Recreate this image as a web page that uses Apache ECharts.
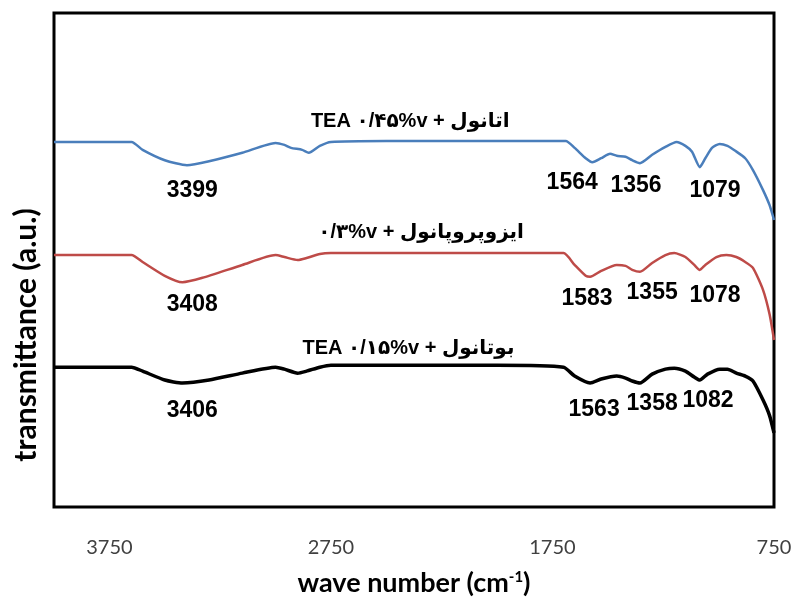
<!DOCTYPE html>
<html>
<head>
<meta charset="utf-8">
<script src="https://cdn.jsdelivr.net/npm/echarts@6/dist/echarts.min.js"></script>
<style>
  html, body { margin: 0; padding: 0; background: #fff; }
  #chart { width: 798px; height: 604px; }
</style>
</head>
<body>
<div id="chart"></div>
<script>
// wave number (cm-1), transmittance (a.u.)
const ethanol = [[4000,73.9],[3650,73.9],[3600,72.3],[3500,70.2],[3400,69.2],[3300,70.0],[3150,71.7],[3000,73.7],[2960,73.3],[2930,72.7],[2880,72.3],[2850,71.7],[2800,73.1],[2750,73.9],[2500,74.1],[2000,74.1],[1690,74.1],[1650,72.7],[1600,70.6],[1570,69.8],[1530,70.6],[1490,71.5],[1460,71.1],[1420,70.9],[1390,70.2],[1355,69.6],[1300,71.3],[1240,72.9],[1190,73.9],[1150,73.1],[1120,71.9],[1085,68.8],[1060,70.6],[1030,72.7],[995,73.5],[960,73.1],[925,72.1],[880,70.6],[845,68.2],[800,64.2],[770,61.1],[750,58.1]];
const isopropanol = [[4000,51.0],[3650,51.0],[3600,49.6],[3500,46.8],[3420,45.5],[3330,46.4],[3150,49.0],[3000,51.0],[2960,50.6],[2900,50.0],[2860,50.4],[2800,51.2],[2750,51.4],[2000,51.4],[1700,51.4],[1650,49.0],[1600,46.8],[1580,46.6],[1530,47.8],[1460,49.0],[1420,48.8],[1390,48.0],[1355,47.6],[1300,49.4],[1240,51.0],[1200,51.4],[1150,50.6],[1110,49.0],[1085,48.0],[1060,49.0],[1010,50.6],[965,51.0],[920,50.6],[880,49.6],[845,48.4],[800,44.0],[770,39.0],[750,33.8]];
const butanol = [[4000,28.3],[3650,28.3],[3600,27.5],[3500,25.7],[3420,25.1],[3300,25.7],[3150,27.1],[3000,28.3],[2960,27.9],[2900,27.1],[2860,27.5],[2800,28.3],[2750,28.7],[2000,28.7],[1700,28.3],[1650,26.5],[1580,25.1],[1530,25.9],[1460,26.5],[1420,26.1],[1390,25.5],[1355,25.1],[1300,26.9],[1240,27.9],[1200,28.1],[1150,27.5],[1110,26.3],[1085,25.7],[1050,26.9],[995,27.9],[960,27.9],[920,27.1],[880,26.5],[845,25.5],[800,21.7],[770,18.5],[750,15.0]];

const seriesNames = ['TEA ۰/۴۵%v + اتانول', '۰/۳%v + ایزوپروپانول', 'TEA ۰/۱۵%v + بوتانول'];
const seriesColors = ['#4a7ebb', '#be4b48', '#000000'];
const seriesWidths = [2.5, 2.5, 3.5];
const nameAnchors = [[2392, 78.1], [2343, 55.5], [2400, 32.0]];

// peak labels: [text, wave number, transmittance]
const ethanolPeaks = [['3399', 3376, 64.0], ['1564', 1661, 65.6], ['1356', 1373, 65.0], ['1079', 1016, 64.0]];
const isopropanolPeaks = [['3408', 3376, 40.9], ['1583', 1594, 42.1], ['1355', 1300, 43.3], ['1078', 1016, 42.7]];
const butanolPeaks = [['3406', 3376, 19.6], ['1563', 1562, 19.8], ['1358', 1300, 20.9], ['1082', 1048, 21.5]];

const xTicks = [750, 1750, 2750, 3750];

const chart = echarts.init(document.getElementById('chart'));
const spectra = [ethanol, isopropanol, butanol];
const peaks = [ethanolPeaks, isopropanolPeaks, butanolPeaks];

const series = spectra.map((data, i) => ({
  type: 'line',
  name: seriesNames[i],
  data: data,
  showSymbol: false,
  smooth: 0.2,
  lineStyle: { color: seriesColors[i], width: seriesWidths[i] },
  markPoint: {
    symbol: 'rect',
    symbolSize: 1,
    itemStyle: { color: 'transparent' },
    label: {
      show: true,
      position: 'inside',
      formatter: '{b}',
      color: '#000',
      fontFamily: 'Liberation Sans, DejaVu Sans, sans-serif',
      fontWeight: 'bold'
    },
    data: peaks[i].map(p => ({
      name: p[0], coord: [p[1], p[2]],
      label: { fontSize: 23 }
    })).concat([{
      name: seriesNames[i], coord: nameAnchors[i],
      label: { fontSize: 20 }
    }])
  }
}));

chart.setOption({
  animation: false,
  grid: {
    left: 54, right: 24, top: 13, bottom: 97,
    show: true, borderColor: '#000', borderWidth: 3
  },
  xAxis: {
    type: 'value',
    inverse: true,
    min: 750,
    max: 4000,
    interval: 250,
    axisLine: { show: false },
    axisTick: { show: false },
    splitLine: { show: false },
    axisLabel: {
      margin: 31,
      fontSize: 20,
      color: '#404040',
      fontFamily: 'Lato, sans-serif',
      formatter: v => xTicks.includes(v) ? String(v) : ''
    },
    name: 'wave number (cm{sup|-1})',
    nameLocation: 'middle',
    nameGap: 63,
    nameTextStyle: {
      fontSize: 27,
      fontWeight: 'bold',
      color: '#000',
      fontFamily: 'Lato, sans-serif',
      rich: { sup: { fontSize: 15, fontWeight: 'bold', verticalAlign: 'top', padding: [0, 0, 12, 0] } }
    }
  },
  yAxis: {
    type: 'value',
    min: 0,
    max: 100,
    axisLine: { show: false },
    axisTick: { show: false },
    axisLabel: { show: false },
    splitLine: { show: false },
    name: 'transmittance (a.u.)',
    nameLocation: 'middle',
    nameGap: 13,
    nameTextStyle: {
      fontSize: 30,
      fontWeight: 'bold',
      color: '#000',
      fontFamily: 'Lato, sans-serif',
      padding: [0, 150, 0, 0]
    }
  },
  series
});
</script>
</body>
</html>
